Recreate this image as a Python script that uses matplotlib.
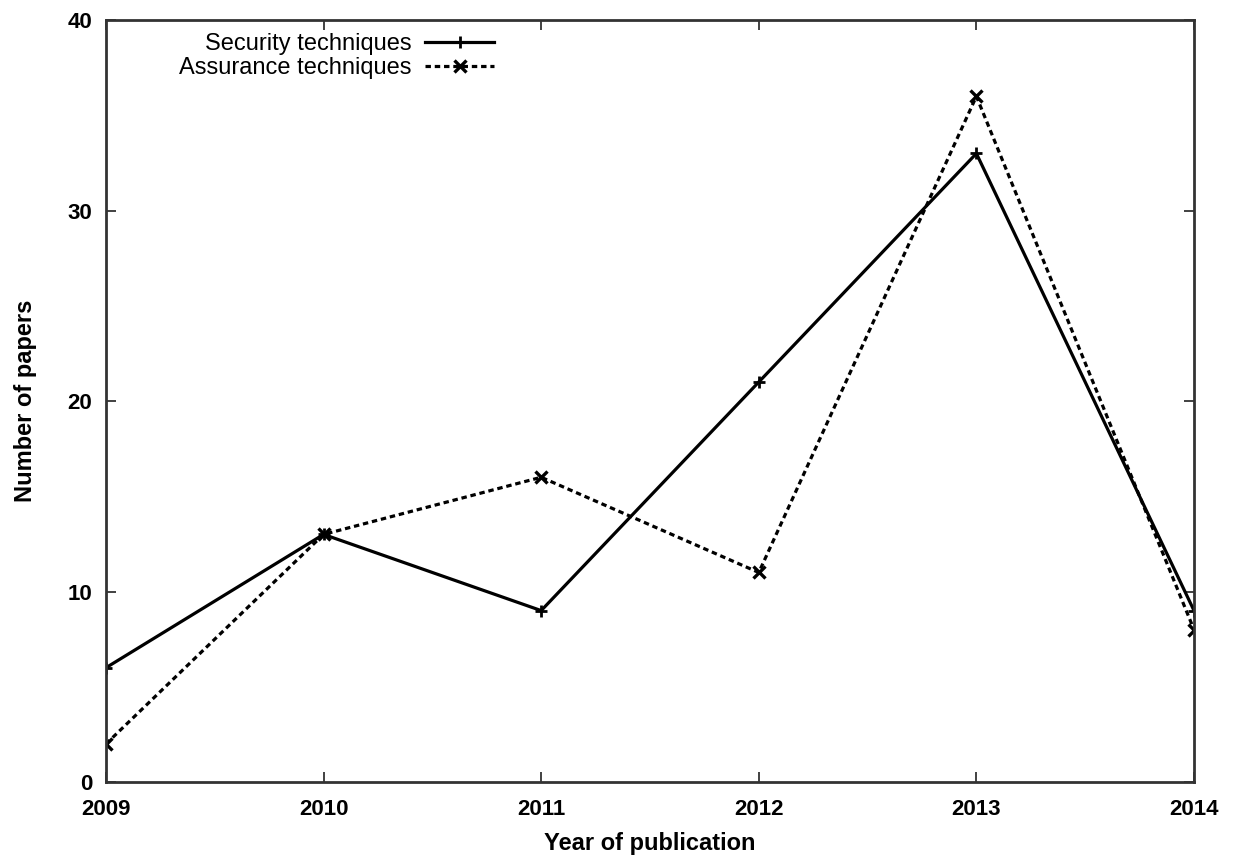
import matplotlib
matplotlib.use("Agg")
import matplotlib.pyplot as plt

years = [2009, 2010, 2011, 2012, 2013, 2014]
security = [6, 13, 9, 21, 33, 9]
assurance = [2, 13, 16, 11, 36, 8]

plt.rcParams["font.family"] = ["Liberation Sans", "DejaVu Sans"]

fig = plt.figure(figsize=(12.35, 8.57), dpi=100)
ax = fig.add_axes([0.0858, 0.0875, 0.881, 0.889])

ax.plot(years, security, color="black", lw=2.3, marker="+", ms=8, mew=2,
        label="Security techniques")
ax.plot(years, assurance, color="black", lw=2.3, ls=(0, (1.7, 1.2)), marker="x",
        ms=8, mew=2.4, label="Assurance techniques")

ax.set_xlim(2009, 2014)
ax.set_ylim(0, 40)
ax.set_xticks(years)
ax.set_yticks([0, 10, 20, 30, 40])
ax.tick_params(direction="in", length=7, width=1.3, top=True, right=True,
               labelsize=16, color="#333333")
ax.tick_params(axis="x", pad=12)
ax.tick_params(axis="y", pad=10)
for lbl in ax.get_xticklabels() + ax.get_yticklabels():
    lbl.set_fontweight("bold")
for s in ax.spines.values():
    s.set_linewidth(2)
    s.set_color("#333333")

ax.set_xlabel("Year of publication", fontsize=17, fontweight="bold", labelpad=9)
ax.set_ylabel("Number of papers", fontsize=17, fontweight="bold", labelpad=22)

ax.legend(loc="upper left", bbox_to_anchor=(0.055, 1.0), frameon=False,
          markerfirst=False, fontsize=17, handlelength=2.9, handletextpad=0.6,
          labelspacing=0.08, borderaxespad=0.15)

fig.savefig("out.png", dpi=100)
